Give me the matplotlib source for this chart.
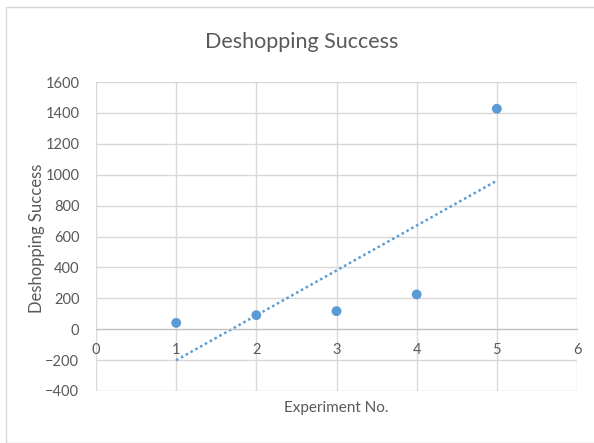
import matplotlib.pyplot as plt
import numpy as np
from matplotlib.patches import Rectangle

# experiment results
experiment = [1, 2, 3, 4, 5]
success = [41, 91, 117, 225, 1427]
x_ticks = [0, 1, 2, 3, 4, 5, 6]
y_ticks = [-400, -200, 0, 200, 400, 600, 800, 1000, 1200, 1400, 1600]

blue = "#5B9BD5"
grey_text = "#595959"
grid_col = "#D9D9D9"

plt.rcParams["font.family"] = ["Lato", "DejaVu Sans"]

fig = plt.figure(figsize=(5.94, 4.43), dpi=100)
fig.patches.append(Rectangle((6 / 594, 0), 1.0, 1 - 7 / 443, transform=fig.transFigure,
                             fill=False, edgecolor="#D9D9D9", linewidth=1))
ax = fig.add_axes([96 / 594, 1 - 391 / 443, (577 - 96) / 594, (391 - 82) / 443])

ax.scatter(experiment, success, s=50, color=blue, zorder=3, edgecolors="none")

# linear trendline
k, b = np.polyfit(experiment, success, 1)
xs = np.array([experiment[0], experiment[-1]])
ax.plot(xs, k * xs + b, color=blue, linestyle=(0, (1, 1.2)), linewidth=1.8, zorder=2)

ax.set_xlim(0, 6)
ax.set_ylim(-400, 1600)
ax.set_xticks(x_ticks)
ax.set_yticks(y_ticks)
ax.grid(True, color=grid_col, linewidth=1)
ax.set_axisbelow(True)

for side in ["left", "right", "top"]:
    ax.spines[side].set_visible(False)
ax.spines["bottom"].set_position(("data", 0))
ax.spines["bottom"].set_color("#BFBFBF")
ax.tick_params(length=0, labelsize=10.5, colors=grey_text)
ax.tick_params(axis="x", pad=10)
ax.tick_params(axis="y", pad=12)

fig.text(302 / 594, 1 - 42 / 443, "Deshopping Success", fontsize=15.5, color=grey_text,
         ha="center", va="center")
fig.text(37 / 594, 1 - 238 / 443, "Deshopping Success", fontsize=12, color=grey_text,
         rotation=90, ha="center", va="center")
fig.text(336 / 594, 1 - 408 / 443, "Experiment No.", fontsize=11, color=grey_text,
         ha="center", va="center")

plt.savefig("out.png")
